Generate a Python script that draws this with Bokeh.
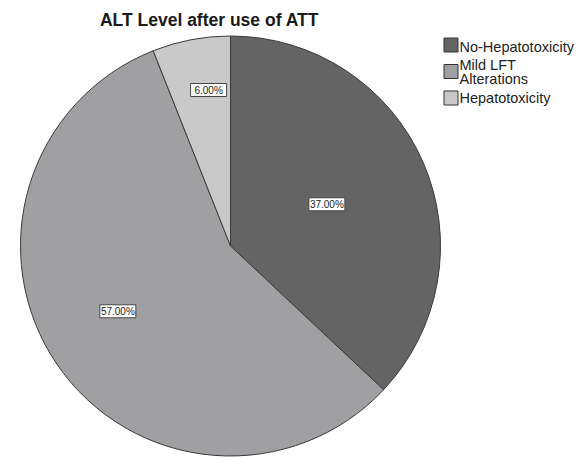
import math
from bokeh.plotting import figure
from bokeh.models import Range1d, ColumnDataSource
from bokeh.core.properties import value
from bokeh.embed import file_html
from bokeh.resources import INLINE

title = "ALT Level after use of ATT"
categories = ["No-Hepatotoxicity", "Mild LFT\nAlterations", "Hepatotoxicity"]
percents = [37.0, 57.0, 6.0]
colors = ["#646464", "#a0a0a2", "#c9c9c9"]

W, H = 580, 458
p = figure(width=W, height=H, output_backend="svg", toolbar_location=None,
           x_range=Range1d(0, W), y_range=Range1d(0, H), min_border=0)
p.axis.visible = False
p.grid.visible = False
p.outline_line_color = None
p.background_fill_color = "white"

cx, cy, r = 230, H - 245.5, 210
label_frac = [0.5, 0.62, 0.75]
label_t = [0.5, 0.52, 0.63]

total = sum(percents)
start = math.pi / 2
starts, ends, lx, ly, labels = [], [], [], [], []
for i, pc in enumerate(percents):
    sweep = pc / total * 2 * math.pi
    end = start - sweep
    starts.append(start)
    ends.append(end)
    mid = start - label_t[i] * sweep
    lx.append(cx + label_frac[i] * r * math.cos(mid))
    ly.append(cy + label_frac[i] * r * math.sin(mid))
    labels.append(f"{pc:.2f}%")
    start = end

src = ColumnDataSource(dict(s=starts, e=ends, c=colors))
p.wedge(x=cx, y=cy, radius=r, start_angle="s", end_angle="e", direction="clock",
        fill_color="c", line_color="#3a3a3a", line_width=1, source=src)

# labels with white boxes
bw, bh = 36, 13
p.rect(x=lx, y=ly, width=bw, height=bh, fill_color="white", line_color="#444444", line_width=1)
p.text(x=lx, y=ly, text=labels, text_align="center", text_baseline="middle",
       text_font=value("Liberation Sans"), text_font_size="10px", text_color="#222222")

# title
p.text(x=[209], y=[H - 19], text=[title], text_align="center", text_baseline="middle",
       text_font=value("Liberation Sans"), text_font_size="17.5px", text_font_style="bold",
       text_color="#1a1a1a")

# legend
sq_y = [H - 44.5, H - 71, H - 97.5]
txt_y = [H - 46, H - 71.5, H - 97]
p.rect(x=[450.5] * 3, y=sq_y, width=14, height=14,
       fill_color=colors, line_color="#333333", line_width=1)
p.text(x=[459] * 3, y=txt_y, text=categories, text_align="left",
       text_baseline="middle", text_font=value("Liberation Sans"), text_font_size="14.5px",
       text_color="#222222", text_line_height=0.9)

open("out.html", "w").write(file_html(p, INLINE))
